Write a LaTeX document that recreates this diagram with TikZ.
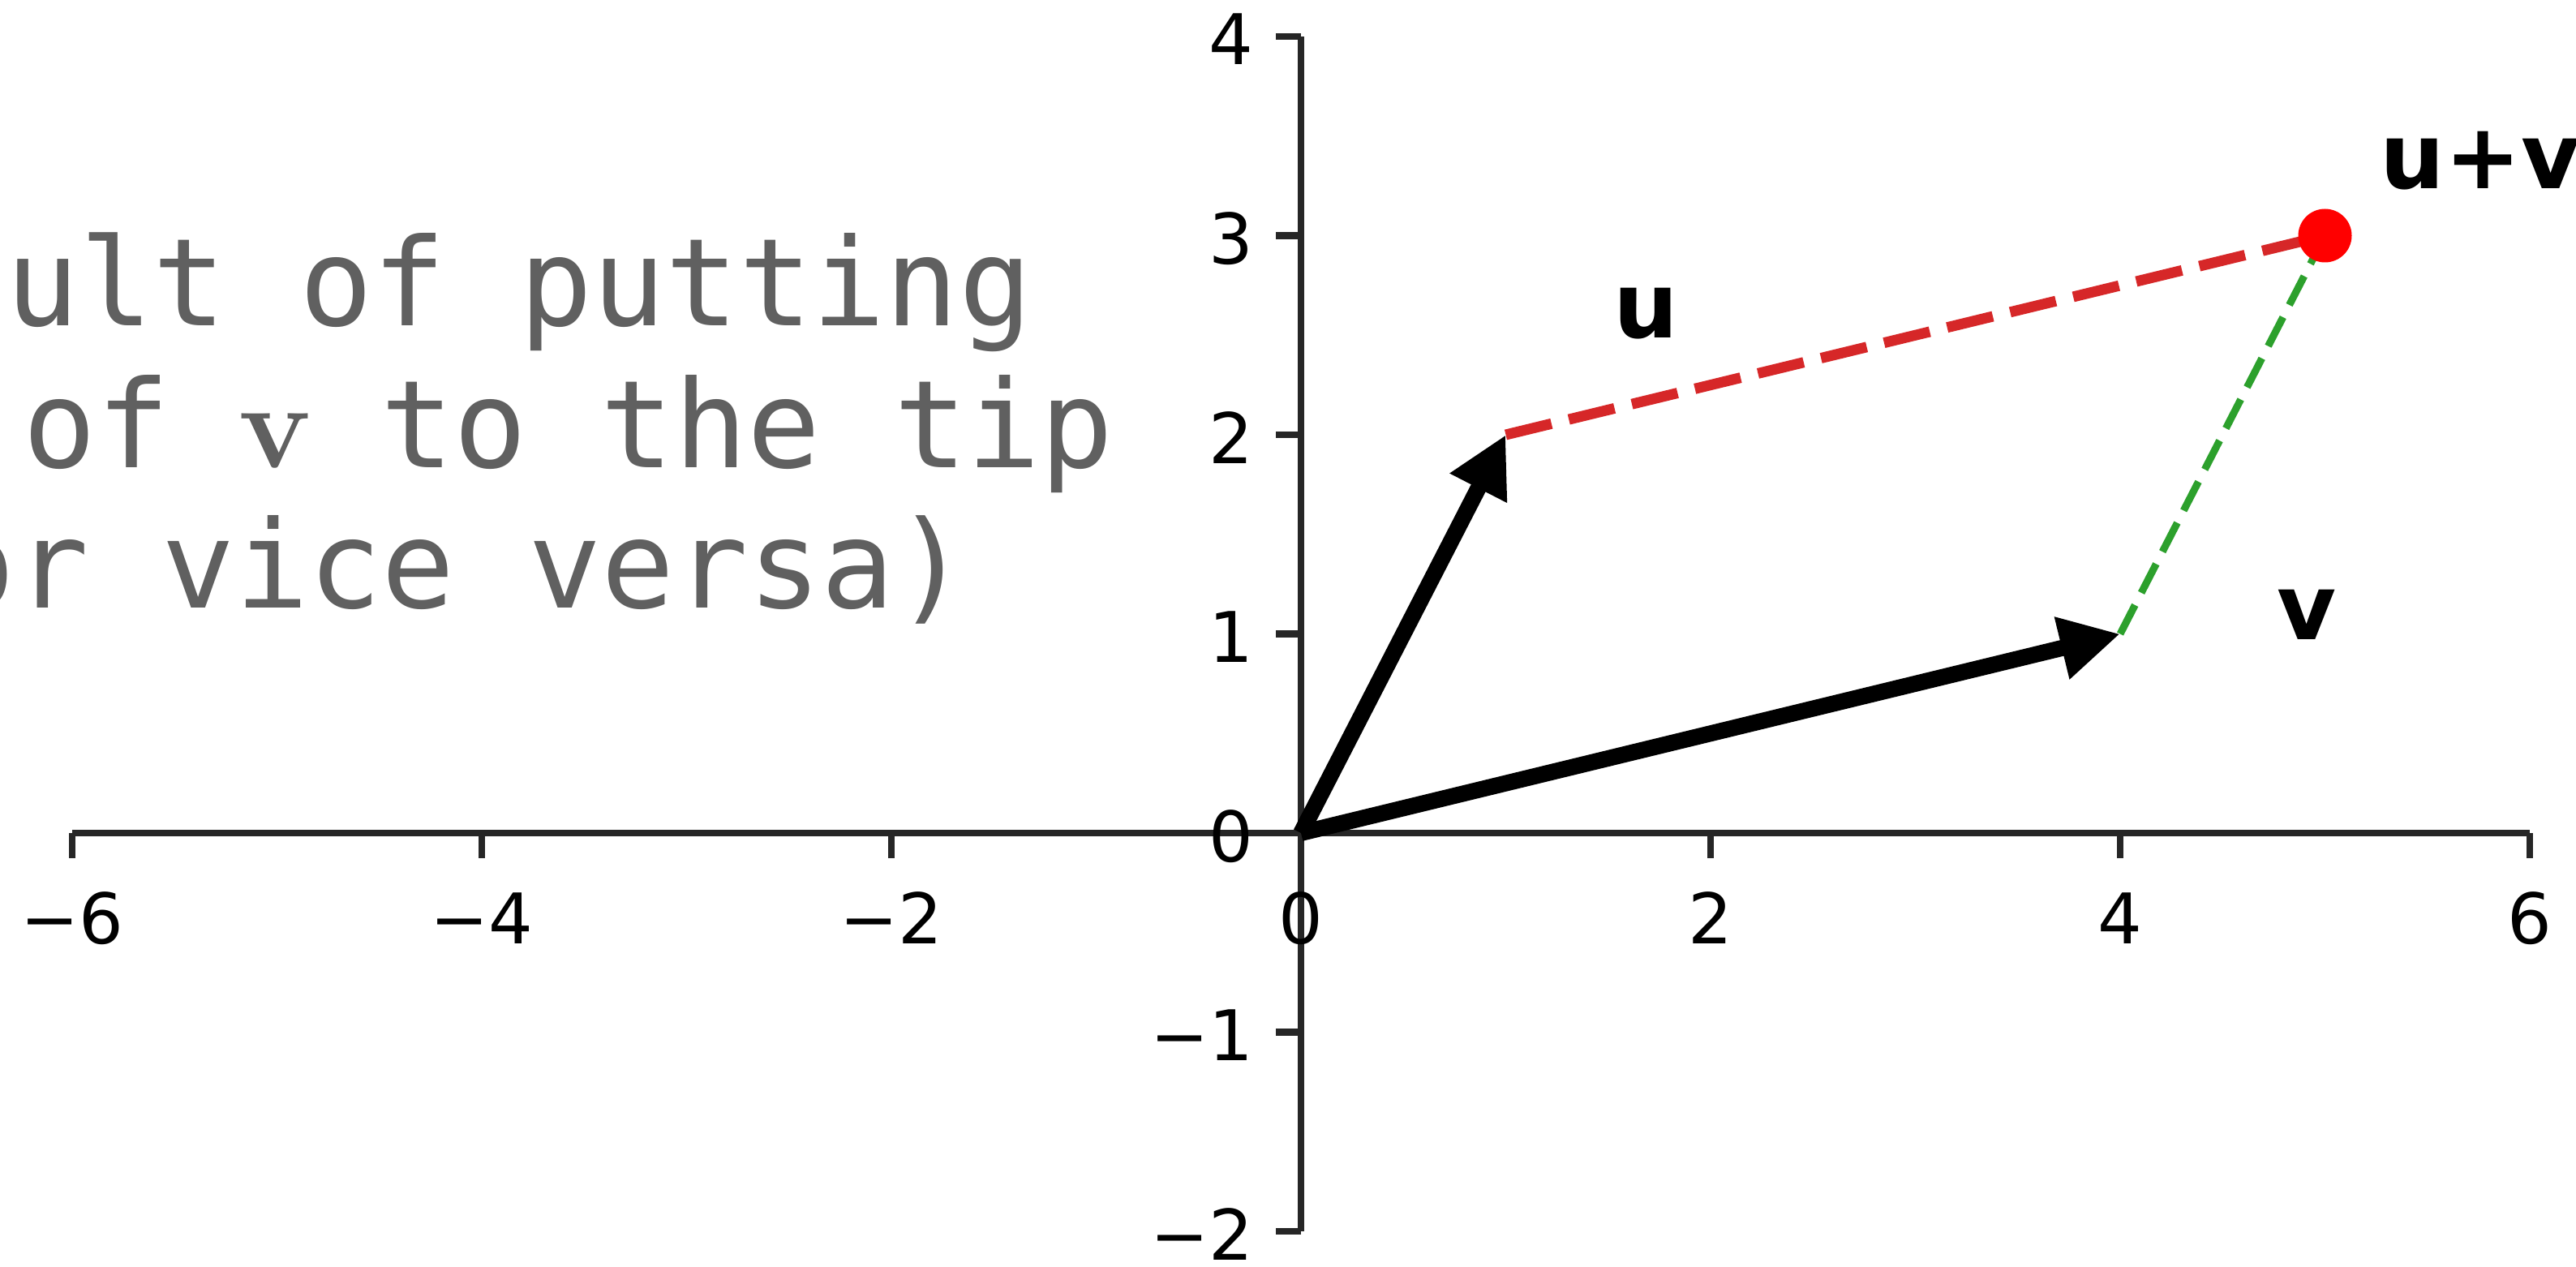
\documentclass[tikz,border=0pt]{standalone}
\usepackage{fontspec}
\setsansfont{DejaVu Sans}
\setmonofont{DejaVu Sans Mono}
\usepackage{tikz}
\usetikzlibrary{arrows.meta,calc,positioning}
\definecolor{notegray}{HTML}{606060}
\definecolor{sumred}{HTML}{D62728}
\definecolor{sumgreen}{HTML}{2CA02C}
\tikzset{
    spine/.style={draw=black!85,line width=0.085cm},
    ticklbl/.style={font=\sffamily\fontsize{24.5pt}{29pt}\selectfont,inner sep=0pt},
    veclbl/.style={font=\sffamily\bfseries\fontsize{31.9pt}{38pt}\selectfont,inner sep=0pt,anchor=base west},
    note/.style={font=\ttfamily\fontsize{42.7pt}{50pt}\selectfont,text=notegray,inner sep=0pt,anchor=base west},
    flecha/.style={draw,line width=0.2cm,-{Triangle[length=0.74cm,width=0.74cm]}},
    reddash/.style={draw=sumred,line width=0.13cm,dash pattern=on 0.58cm off 0.22cm},
    greendash/.style={draw=sumgreen,line width=0.09cm,dash pattern=on 0.40cm off 0.17cm},
    dot/.style={circle,fill=red,minimum size=0.66cm,inner sep=0pt},
}
\begin{document}
\begin{tikzpicture}[x=2.525cm,y=2.455cm]
    \useasboundingbox (-16.04cm,-5.34cm) rectangle (15.72cm,10.27cm);
    \clip (-16.04cm,-5.34cm) rectangle (15.72cm,10.27cm);
    % axes
    \path [spine] (-6,0) -- (6,0);
    \path [spine] (0,-2) -- (0,4);
    \foreach \x/\t [count=\i] in {-6/−6,-4/−4,-2/−2,0/0,2/2,4/4,6/6} {
        \path [spine] (\x,0) -- ++(0,-0.31cm);
        \node [ticklbl,anchor=base] (xlbl\i) at ([yshift=-1.36cm]\x,0) {\t};
    }
    \foreach \y/\t [count=\i] in {-2/−2,-1/−1,0/0,1/1,2/2,3/3,4/4} {
        \path [spine] (0,\y) -- ++(-0.31cm,0);
        \node [ticklbl,anchor=base east] (ylbl\i) at ([xshift=-0.58cm,yshift=-0.35cm]0,\y) {\t};
    }
    \coordinate (O) at (0,0);
    \coordinate (U) at (1,2);
    \coordinate (V) at (4,1);
    \coordinate (S) at (5,3);
    \path [reddash] (U) -- (S);
    \path [greendash] (V) -- (S);
    \path [flecha] (O) -- (U);
    \path [flecha] (O) -- (V);
    \node [dot] (sumdot) at (S) {};
    \node [veclbl] (ulbl) at (3.85cm,6.11cm) {u};
    \node [veclbl] (vlbl) at (12.03cm,2.39cm) {v};
    \node [veclbl] (uvlbl) at (13.30cm,7.94cm) {u+v};
    \node [note] (line1) at (-15.97cm,6.25cm) {ult of putting};
    \node [note] (line2) at (-15.76cm,4.51cm) {of \makebox[0.53em]{\rmfamily\bfseries v} to the tip};
    \node [note] (line3) at (-16.76cm,2.78cm) {or vice versa)};
\end{tikzpicture}
\end{document}
